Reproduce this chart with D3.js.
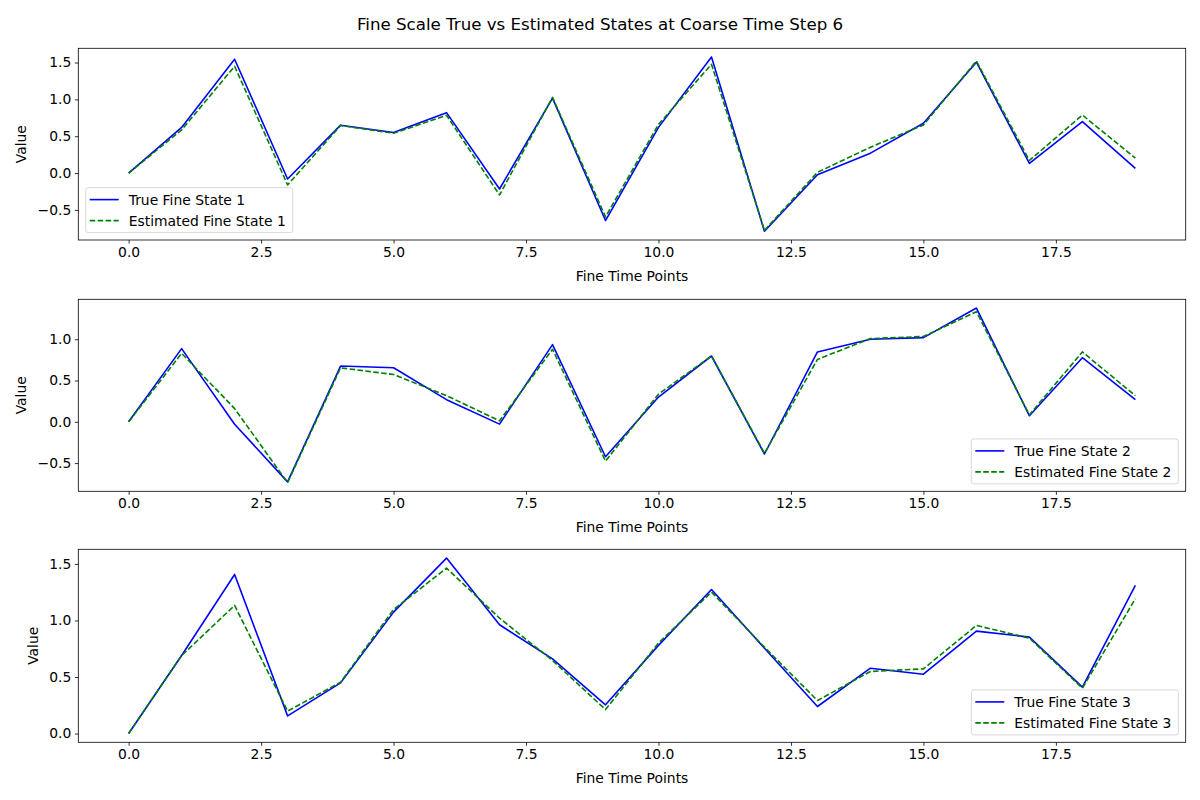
<!DOCTYPE html>
<html><head><meta charset="utf-8">
<script src="https://cdn.jsdelivr.net/npm/d3@7"></script>
<style>body{margin:0;background:#fff}svg{display:block}text{font-family:"DejaVu Sans",sans-serif;fill:#000}</style>
</head><body>
<svg id="c" width="1200" height="800"></svg>
<script>
const timePoints = d3.range(20);
const xTicks = [0, 2.5, 5, 7.5, 10, 12.5, 15, 17.5];
const title = "Fine Scale True vs Estimated States at Coarse Time Step 6";

const true1 = [0.0, 0.62, 1.545, -0.08, 0.65, 0.55, 0.82, -0.216, 1.018, -0.644, 0.62, 1.575, -0.79, -0.023, 0.27, 0.676, 1.505, 0.13, 0.698, 0.063];
const est1  = [0.0, 0.585, 1.45, -0.16, 0.645, 0.54, 0.784, -0.297, 1.027, -0.595, 0.66, 1.477, -0.778, 0.01, 0.351, 0.653, 1.52, 0.171, 0.788, 0.203];
const true2 = [0.0, 0.886, -0.03, -0.728, 0.675, 0.654, 0.268, -0.028, 0.935, -0.423, 0.3, 0.797, -0.39, 0.846, 1.0, 1.02, 1.378, 0.073, 0.776, 0.268];
const est2  = [0.0, 0.829, 0.16, -0.736, 0.654, 0.573, 0.317, 0.012, 0.878, -0.476, 0.335, 0.797, -0.382, 0.756, 1.008, 1.033, 1.333, 0.085, 0.846, 0.317];
const true3 = [0.0, 0.69, 1.407, 0.156, 0.448, 1.074, 1.552, 0.962, 0.661, 0.254, 0.78, 1.274, 0.755, 0.239, 0.578, 0.525, 0.906, 0.853, 0.41, 1.31];
const est3  = [0.0, 0.69, 1.133, 0.198, 0.454, 1.097, 1.463, 1.021, 0.646, 0.212, 0.80, 1.251, 0.764, 0.292, 0.549, 0.572, 0.956, 0.844, 0.401, 1.192];

const yTicks1 = [-0.5, 0.0, 0.5, 1.0, 1.5];
const yTicks2 = [-0.5, 0.0, 0.5, 1.0];
const yTicks3 = [0.0, 0.5, 1.0, 1.5];

const panels = [
  {tr: true1, es: est1, ticks: yTicks1, label: "1", top: 48.3, bottom: 240, legend: "ll", ylx: 21},
  {tr: true2, es: est2, ticks: yTicks2, label: "2", top: 299.3, bottom: 491.3, legend: "lr", ylx: 21},
  {tr: true3, es: est3, ticks: yTicks3, label: "3", top: 549.3, bottom: 742.3, legend: "lr", ylx: 33}
];

const svg = d3.select("#c");
const left = 78.3, right = 1185.7;
const fs = 13.89;

svg.append("text").attr("x", 600).attr("y", 30).attr("text-anchor", "middle")
  .style("font-size", "16.67px").text(title);

panels.forEach(p => {
  const xmin = d3.min(timePoints), xmax = d3.max(timePoints);
  const xpad = (xmax - xmin) * 0.05;
  const x = d3.scaleLinear().domain([xmin - xpad, xmax + xpad]).range([left, right]);
  const all = p.tr.concat(p.es);
  const ymin = d3.min(all), ymax = d3.max(all);
  const ypad = (ymax - ymin) * 0.05;
  const y = d3.scaleLinear().domain([ymin - ypad, ymax + ypad]).range([p.bottom, p.top]);

  const g = svg.append("g");
  const xAxis = d3.axisBottom(x).tickValues(xTicks).tickFormat(d3.format(".1f")).tickSize(3.5).tickPadding(3.5);
  const gx = g.append("g").attr("transform", `translate(0,${p.bottom})`).call(xAxis);
  const yAxis = d3.axisLeft(y).tickValues(p.ticks).tickFormat(d => d < 0 ? "\u2212" + d3.format(".1f")(-d) : d3.format(".1f")(d)).tickSize(3.5).tickPadding(3.5);
  const gy = g.append("g").attr("transform", `translate(${left},0)`).call(yAxis);
  [gx, gy].forEach(a => {
    a.select(".domain").remove();
    a.selectAll("line").attr("stroke", "#000").attr("stroke-width", 0.8);
    a.selectAll("text").style("font-size", fs + "px").style("font-family", '"DejaVu Sans",sans-serif').attr("fill", "#000");
  });

  const line = d3.line().x((d, i) => x(timePoints[i])).y(d => y(d));
  g.append("path").datum(p.tr).attr("d", line).attr("fill", "none").attr("stroke", "#0000ff").attr("stroke-width", 1.6).attr("stroke-linejoin", "round");
  g.append("path").datum(p.es).attr("d", line).attr("fill", "none").attr("stroke", "#008000").attr("stroke-width", 1.6).attr("stroke-dasharray", "5.55,2.4").attr("stroke-linejoin", "round");

  g.append("rect").attr("x", left).attr("y", p.top).attr("width", right - left).attr("height", p.bottom - p.top)
    .attr("fill", "none").attr("stroke", "#000").attr("stroke-width", 0.8);

  g.append("text").attr("x", (left + right) / 2).attr("y", p.bottom + 41).attr("text-anchor", "middle")
    .style("font-size", fs + "px").text("Fine Time Points");
  g.append("text").attr("transform", `translate(${p.ylx + 5},${(p.top + p.bottom) / 2}) rotate(-90)`).attr("text-anchor", "middle")
    .style("font-size", fs + "px").text("Value");

  // legend
  const lw = 207, lh = 45;
  const lx = p.legend === "ll" ? left + 7.4 : right - 7.4 - lw;
  const ly = p.bottom - 7.4 - lh;
  const lg = g.append("g").attr("transform", `translate(${lx},${ly})`);
  lg.append("rect").attr("width", lw).attr("height", lh).attr("rx", 2.5).attr("fill", "#fff").attr("fill-opacity", 0.8)
    .attr("stroke", "#d9d9d9").attr("stroke-width", 1);
  const items = [
    {name: "True Fine State " + p.label, color: "#0000ff", dash: null},
    {name: "Estimated Fine State " + p.label, color: "#008000", dash: "5.55,2.4"}
  ];
  items.forEach((it, k) => {
    const yy = 12 + k * 21;
    lg.append("line").attr("x1", 4).attr("x2", 33).attr("y1", yy).attr("y2", yy)
      .attr("stroke", it.color).attr("stroke-width", 1.6).attr("stroke-dasharray", it.dash);
    lg.append("text").attr("x", 43).attr("y", yy + 5).style("font-size", fs + "px").text(it.name);
  });
});
</script>
</body></html>
